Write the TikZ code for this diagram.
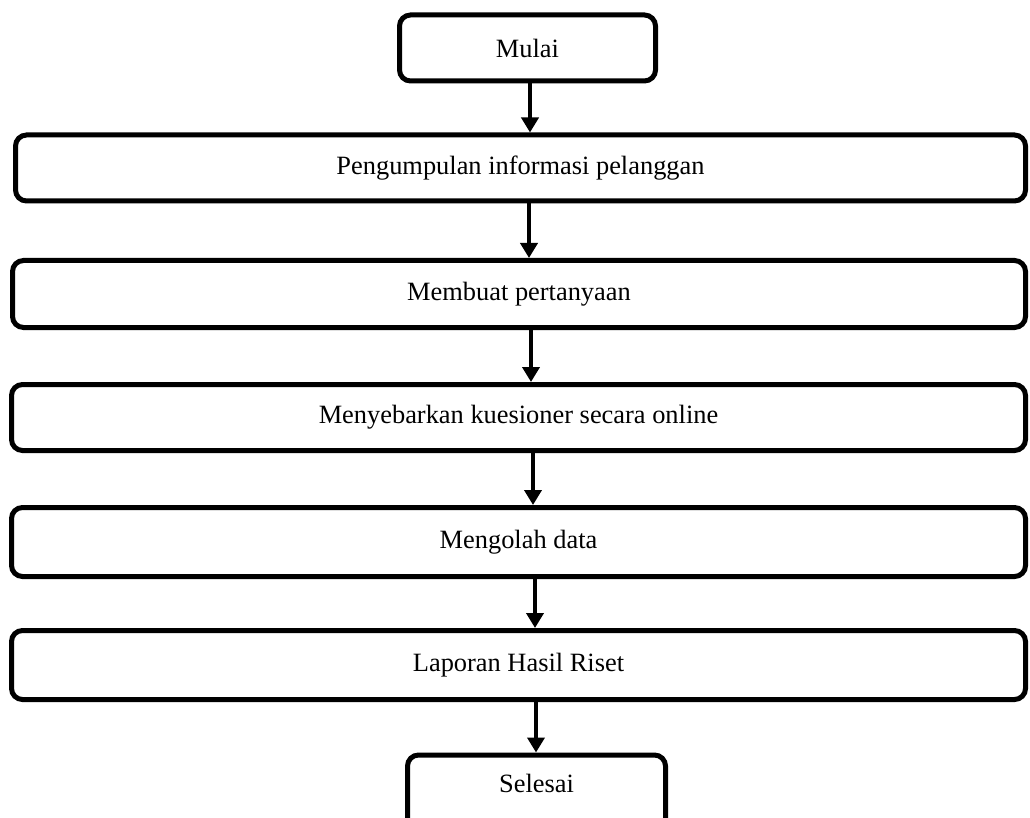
\documentclass[tikz,border=0pt]{standalone}
\usepackage{fontspec}
\setmainfont{Liberation Serif}
\usetikzlibrary{arrows.meta}
\begin{document}
\begin{tikzpicture}[x=1pt,y=-1pt,
  box/.style={draw=black,line width=5pt,rounded corners=11pt,fill=white,inner sep=0pt},
  lbl/.style={font=\fontsize{26.4}{30}\selectfont,inner sep=0pt},
  arr/.style={line width=4pt,-{Triangle[width=17pt,length=15pt]}}]
\useasboundingbox (0,0) rectangle (1030,818);
\clip (0,0) rectangle (1030,818);
\fill[white] (0,0) rectangle (1030,818);
\node[box,minimum width=256pt,minimum height=66pt,lbl] (mulai) at (527.5,48) {Mulai};
\node[box,minimum width=1010pt,minimum height=66pt,lbl] (b1) at (520.5,168) {Pengumpulan informasi pelanggan};
\node[box,minimum width=1013pt,minimum height=67pt,lbl] (b2) at (519,294) {Membuat pertanyaan};
\node[box,minimum width=1014pt,minimum height=66pt,lbl] (b3) at (518.5,417.5) {Menyebarkan kuesioner secara online};
\node[box,minimum width=1014pt,minimum height=69pt,lbl] (b4) at (518.5,542) {Mengolah data};
\node[box,minimum width=1014pt,minimum height=69pt,lbl] (b5) at (518.5,665) {Laporan Hasil Riset};
\node[box,minimum width=258pt,minimum height=84pt,anchor=north] (sel) at (536.5,752.5) {};
\node[lbl] (seltxt) at (536.5,783) {Selesai};
\draw[arr] (530,0 |- mulai.south) -- (530,0 |- b1.north);
\draw[arr] (529,0 |- b1.south) -- (529,0 |- b2.north);
\draw[arr] (531,0 |- b2.south) -- (531,0 |- b3.north);
\draw[arr] (533,0 |- b3.south) -- (533,0 |- b4.north);
\draw[arr] (535,0 |- b4.south) -- (535,0 |- b5.north);
\draw[arr] (536,0 |- b5.south) -- (536,0 |- sel.north);
\end{tikzpicture}
\end{document}
